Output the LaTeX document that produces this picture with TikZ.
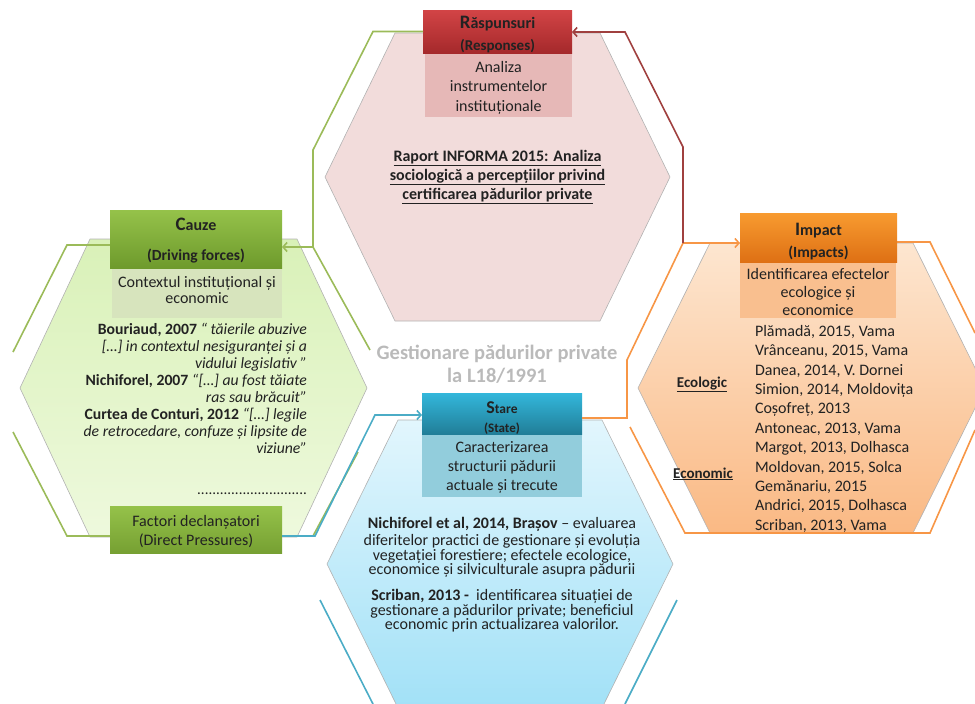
\documentclass[tikz,border=0pt]{standalone}
\usepackage{fontspec}
\setmainfont{Carlito}
\usetikzlibrary{arrows.meta}
\definecolor{ink}{HTML}{222222}
\definecolor{pinkfill}{HTML}{F2DCDB}
\definecolor{gTop}{HTML}{D9F1B8}
\definecolor{gBot}{HTML}{EEF9DD}
\definecolor{oTop}{HTML}{FDE6D0}
\definecolor{oBot}{HTML}{FAB984}
\definecolor{bTop}{HTML}{E2F6FD}
\definecolor{bBot}{HTML}{A2E1F7}
\definecolor{rTop}{HTML}{D24446}
\definecolor{rBot}{HTML}{A5292B}
\definecolor{rBody}{HTML}{E6B8B7}
\definecolor{cTop}{HTML}{95C24A}
\definecolor{cBot}{HTML}{6E9A2C}
\definecolor{cBody}{HTML}{D7E4BD}
\definecolor{iTop}{HTML}{F89B30}
\definecolor{iBot}{HTML}{DE7014}
\definecolor{iBody}{HTML}{F9BF8F}
\definecolor{sTop}{HTML}{33B7DB}
\definecolor{sBot}{HTML}{217E98}
\definecolor{sBody}{HTML}{92CDDC}
\definecolor{fTop}{HTML}{95C24A}
\definecolor{fBot}{HTML}{76A032}
\definecolor{lgreen}{HTML}{9BBB59}
\definecolor{lblue}{HTML}{4BACC6}
\definecolor{lorange}{HTML}{F79646}
\definecolor{lmaroon}{HTML}{A0403F}
\begin{document}
\begin{tikzpicture}[x=1pt,y=-1pt,
  hexfill/.style={draw=black!30, line width=0.6pt},
  hdr/.style={rectangle, inner sep=0pt, outer sep=0pt, draw=none},
  txt/.style={inner sep=0pt, outer sep=0pt, text=ink, align=center},
  gline/.style={draw=lgreen, line width=1.6pt},
  bline/.style={draw=lblue, line width=1.6pt},
  oline/.style={draw=lorange, line width=1.6pt},
  mline/.style={draw=lmaroon, line width=1.6pt},
  arr/.style={-{Straight Barb[length=4pt,width=9pt]}}]
\useasboundingbox (0,0) rectangle (975,704);

% hexagon fills
\path[hexfill, fill=pinkfill] (325,177) -- (395,33) -- (600,33) -- (670,177) -- (600,321) -- (395,321) -- cycle;
\path[hexfill, top color=gTop, bottom color=gBot] (20,388) -- (90,239) -- (297,239) -- (367,388) -- (297,537) -- (90,537) -- cycle;
\path[hexfill, top color=oTop, bottom color=oBot] (638,388) -- (710,243) -- (913,243) -- (985,388) -- (913,533) -- (710,533) -- cycle;
\path[hexfill, top color=bTop, bottom color=bBot] (327,564) -- (398,420) -- (602,420) -- (673,564) -- (602,708) -- (398,708) -- cycle;

% outer outlines (partial)
\draw[gline] (110,245) -- (67,245) -- (13,352);
\draw[gline] (13,432) -- (67,536) -- (110,536);
\draw[gline] (358,452) -- (313,536);
\draw[bline] (320,600) -- (373,704);
\draw[bline] (677,600) -- (625,704);
\draw[oline] (630,427) -- (685,533) -- (930,533) -- (975,430);
\draw[oline] (897,242) -- (930,242) -- (975,333);

% boxes
\node[hdr, minimum width=147, minimum height=64, fill=rBody] (rB) at (498.5,85) {};
\node[hdr, minimum width=149, minimum height=43, top color=rTop, bottom color=rBot] (rH) at (497.5,31.5) {};
\node[hdr, minimum width=170, minimum height=50, fill=cBody] (cB) at (197,293) {};
\node[hdr, minimum width=172, minimum height=58, top color=cTop, bottom color=cBot] (cH) at (196,239) {};
\node[hdr, minimum width=156, minimum height=56, fill=iBody] (iB) at (818,290) {};
\node[hdr, minimum width=157, minimum height=49, top color=iTop, bottom color=iBot] (iH) at (818.5,237.5) {};
\node[hdr, minimum width=160, minimum height=63, fill=sBody] (sB) at (502,465.5) {};
\node[hdr, minimum width=160, minimum height=41, top color=sTop, bottom color=sBot] (sH) at (502,413.5) {};
\node[hdr, minimum width=172, minimum height=47, top color=fTop, bottom color=fBot] (fH) at (196,529.5) {};

% connector bend points
\coordinate (gA) at (373,31.5);
\coordinate (gB) at (313,150);
\coordinate (gC) at (313,247);
\coordinate (gD) at (370,350);
\coordinate (bA) at (315,536);
\coordinate (bB) at (375,415);
\coordinate (oA) at (627,418);
\coordinate (oB) at (627,360);
\coordinate (oC) at (683,243);
\coordinate (mA) at (683,147);
\coordinate (mB) at (625,32);

% connectors
\draw[gline, arr] (rH.west) -- (gA) -- (gB) -- (gC) -- (gC -| cH.east);
\draw[gline] (gC) -- (gD);
\draw[bline, arr] (fH.east |- bA) -- (bA) -- (bB) -- (bB -| sH.west);
\draw[oline, arr] (sH.east |- oA) -- (oA) -- (oB) -- (oC) -- (oC -| iH.west);
\draw[mline, arr] (oC) -- (mA) -- (mB) -- (mB -| rH.east);

% box texts
\node[txt, font=\bfseries\fontsize{15}{22}\selectfont, anchor=north] (rHt) at (497.5,12.6)
  {\strut{\fontsize{19}{22}\selectfont R}{\fontsize{16}{22}\selectfont ăspunsuri}\\(Responses)};
\node[txt, font=\fontsize{16}{19.5}\selectfont, anchor=north] (rBt) at (498.5,58.4)
  {\strut Analiza\\instrumentelor\\instituționale};
\node[txt, font=\bfseries\fontsize{15.5}{30}\selectfont, anchor=north] (cHt) at (196,209)
  {\strut{\fontsize{19}{30}\selectfont C}{\fontsize{16}{30}\selectfont auze}\\(Driving forces)};
\node[txt, font=\fontsize{16}{16.7}\selectfont, anchor=north] (cBt) at (197,275.5)
  {\strut Contextul instituțional și\\economic};
\node[txt, font=\bfseries\fontsize{15.5}{22}\selectfont, anchor=north] (iHt) at (818.5,219.6)
  {\strut{\fontsize{19}{22}\selectfont I}{\fontsize{16}{22}\selectfont mpact}\\(Impacts)};
\node[txt, font=\fontsize{16}{18}\selectfont, anchor=north] (iBt) at (818,266.4)
  {\strut Identificarea efectelor\\ecologice și\\economice};
\node[txt, font=\bfseries\fontsize{13}{19}\selectfont, anchor=north] (sHt) at (502,399.7)
  {\strut{\fontsize{18}{19}\selectfont S}{\fontsize{13.5}{19}\selectfont tare}\\(State)};
\node[txt, font=\fontsize{16}{19}\selectfont, anchor=north] (sBt) at (502,438.7)
  {\strut Caracterizarea\\structurii pădurii\\actuale și trecute};
\node[txt, font=\fontsize{16}{19}\selectfont, anchor=north] (fHt) at (196,512.7)
  {\strut Factori declanșatori\\(Direct Pressures)};

% hexagon texts
\node[txt, font=\bfseries\fontsize{16}{19}\selectfont, anchor=north] (tR) at (497.5,148)
  {\strut\underline{Raport INFORMA 2015: Analiza}\\\underline{sociologică a percepțiilor privind}\\\underline{certificarea pădurilor private}};

\node[txt, align=right, font=\fontsize{15.7}{17.1}\selectfont, anchor=north east] (tC) at (307,322.3)
  {\strut\textbf{Bouriaud, 2007} \textit{“ tăierile abuzive}\\
   \textit{[…] in contextul nesiguranței și a}\\
   \textit{vidului legislativ ”}\\
   \textbf{Nichiforel, 2007} \textit{“[…] au fost tăiate}\\
   \textit{ras sau brăcuit”}\\
   \textbf{Curtea de Conturi, 2012} \textit{“[…] legile}\\
   \textit{de retrocedare, confuze și lipsite de}\\
   \textit{viziune”}};
\node[txt, font=\fontsize{15}{17}\selectfont, anchor=base east] (tDots) at (307,494)
  {.............................};

\node[txt, align=left, font=\fontsize{16}{19.4}\selectfont, anchor=north west] (tI) at (755,322.8)
  {\strut Plămadă, 2015, Vama\\
   Vrânceanu, 2015, Vama\\
   Danea, 2014, V. Dornei\\
   Simion, 2014, Moldovița\\
   Coșofreț, 2013\\
   Antoneac, 2013, Vama\\
   Margot, 2013, Dolhasca\\
   Moldovan, 2015, Solca\\
   Gemănariu, 2015\\
   Andrici, 2015, Dolhasca\\
   Scriban, 2013, Vama};
\node[txt, font=\bfseries\fontsize{15}{18}\selectfont, anchor=base] (tEco) at (702,387) {\underline{Ecologic}};
\node[txt, font=\bfseries\fontsize{15}{18}\selectfont, anchor=base] (tEcn) at (703,478) {\underline{Economic}};

\node[txt, font=\fontsize{16}{14.7}\selectfont, anchor=north] (tS) at (502,517.7)
  {\strut\textbf{Nichiforel et al, 2014, Brașov} – evaluarea\\
   diferitelor practici de gestionare și evoluția\\
   vegetației forestiere; efectele ecologice,\\
   economice și silviculturale asupra pădurii\\[11pt]
   \textbf{Scriban, 2013 -}\ \ identificarea situației de\\
   gestionare a pădurilor private; beneficiul\\
   economic prin actualizarea valorilor.};

\node[txt, font=\bfseries\fontsize{20.5}{23}\selectfont, text=black!27, anchor=north] (ctr) at (497,343)
  {\strut Gestionare pădurilor private\\la L18/1991};
\end{tikzpicture}
\end{document}
